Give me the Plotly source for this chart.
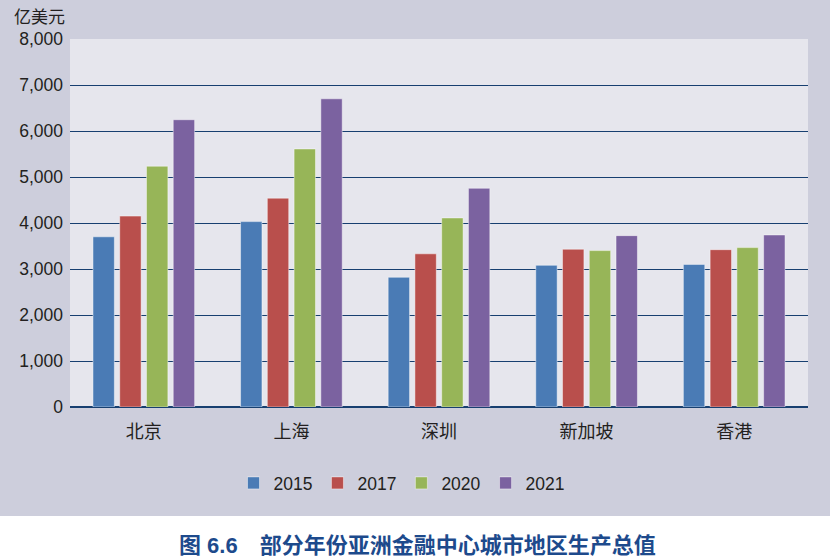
import plotly.graph_objects as go

cities = ["北京", "上海", "深圳", "新加坡", "香港"]
years = ["2015", "2017", "2020", "2021"]
v2015 = [3700, 4030, 2820, 3080, 3100]
v2017 = [4150, 4540, 3330, 3430, 3420]
v2020 = [5235, 5610, 4110, 3400, 3465]
v2021 = [6245, 6700, 4755, 3725, 3740]
series = [v2015, v2017, v2020, v2021]
colors = ["#4a7bb5", "#b94f4c", "#97b558", "#7b62a0"]
yticks = [0, 1000, 2000, 3000, 4000, 5000, 6000, 7000, 8000]

FONT = "'Liberation Sans', 'Noto Sans CJK SC', sans-serif"

fig = go.Figure()
for name, vals, c in zip(years, series, colors):
    fig.add_trace(go.Bar(
        x=cities, y=vals, name=name,
        marker=dict(color=c, line=dict(color="rgba(255,255,255,0.45)", width=1)),
    ))

W, H = 830, 558
L, R, T, B = 70, 22, 39, 151
pw, ph = W - L - R, H - T - B

def px_to_paper_y(py):
    return (H - B - py) / ph

def px_to_paper_x(px):
    return (px - L) / pw

fig.update_layout(
    width=W, height=H,
    margin=dict(l=L, r=R, t=T, b=B),
    paper_bgcolor="#cdcedc",
    plot_bgcolor="#e6e6ed",
    barmode="group",
    bargap=0.275,
    bargroupgap=0.2,
    font=dict(family=FONT, size=17.5, color="#231f20"),
    showlegend=True,
    legend=dict(
        orientation="h", x=px_to_paper_x(402), xanchor="center",
        y=px_to_paper_y(483), yanchor="middle",
        bgcolor="rgba(0,0,0,0)", font=dict(size=17.5, family=FONT),
        itemwidth=30, traceorder="normal",
    ),
    xaxis=dict(
        showgrid=False, showline=False, ticks="",
        tickfont=dict(size=18, family=FONT), ticklabelstandoff=12,
    ),
    yaxis=dict(
        range=[0, 8000], tickvals=yticks, tickformat=",",
        showgrid=True, gridcolor="#173f70", gridwidth=1.3,
        zeroline=True, zerolinecolor="#173f70", zerolinewidth=1.6,
        showline=False, ticks="", ticklabelstandoff=6,
        tickfont=dict(size=17.5, family=FONT),
    ),
    shapes=[dict(
        type="rect", xref="paper", yref="paper",
        x0=px_to_paper_x(-5), x1=px_to_paper_x(W + 5),
        y0=px_to_paper_y(516), y1=px_to_paper_y(H + 5),
        fillcolor="#ffffff", line=dict(width=0), layer="below",
    )],
    annotations=[
        dict(text="亿美元", xref="paper", yref="paper",
             x=px_to_paper_x(67), y=px_to_paper_y(18),
             xanchor="right", yanchor="middle", showarrow=False,
             font=dict(size=17, family=FONT, color="#231f20")),
        dict(text="<b>图 6.6　部分年份亚洲金融中心城市地区生产总值</b>",
             xref="paper", yref="paper",
             x=px_to_paper_x(417), y=px_to_paper_y(545),
             xanchor="center", yanchor="middle", showarrow=False,
             font=dict(size=22, family=FONT, color="#1d4a8c")),
    ],
)

fig.write_html("out.html")
